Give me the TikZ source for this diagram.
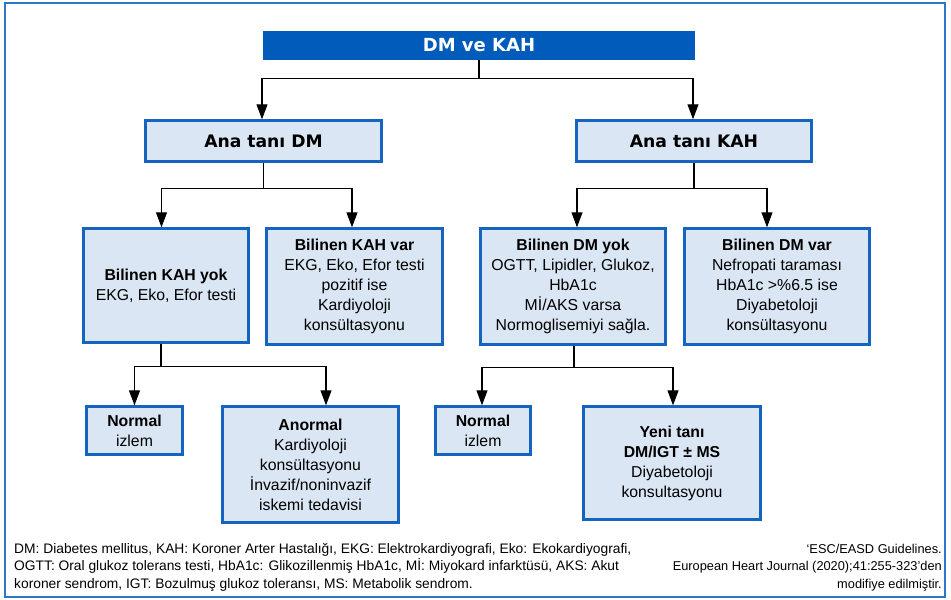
\documentclass[tikz,border=0pt]{standalone}
\usepackage{fontspec}
\setmainfont{Liberation Sans}
\newfontfamily\headfont{DejaVu Sans}
\usetikzlibrary{arrows.meta,calc}
\definecolor{boxblue}{HTML}{1565C0}
\definecolor{boxfill}{HTML}{DAE6F3}
\definecolor{titlefill}{HTML}{005BBB}
\definecolor{framecol}{HTML}{2F76C9}
\tikzset{
  box/.style={draw=boxblue, line width=2.4pt, fill=boxfill, inner sep=0pt, align=center,
    font=\fontsize{15.8}{20}\selectfont},
  headbox/.style={box, font=\headfont\bfseries\fontsize{17.2}{20}\selectfont},
  titlebox/.style={fill=titlefill, text=white, inner sep=0pt, align=center,
    font=\headfont\bfseries\fontsize{18}{20}\selectfont},
  conn/.style={line width=1.1pt, draw=black},
  arr/.style={conn, -{Triangle[width=11pt,length=15pt]}},
  foot/.style={inner sep=0pt, font=\fontsize{13.8}{17.5}\selectfont},
  footr/.style={inner sep=0pt, font=\fontsize{12.8}{17.5}\selectfont},
  frame/.style={draw=framecol, line width=2pt}
}
\begin{document}
\begin{tikzpicture}[x=1pt,y=-1pt]
\useasboundingbox (0,0) rectangle (951,600);
\draw[frame] (5,3) rectangle (945,597);

\node[titlebox, minimum width=432pt, minimum height=29pt] (title) at (479,45.5) {DM ve KAH};

\node[headbox, minimum width=236pt, minimum height=41pt] (anadm) at (263.5,141) {Ana tanı DM};
\node[headbox, minimum width=235pt, minimum height=41pt] (anakah) at (694,141) {Ana tanı KAH};

\node[box, minimum width=165pt, minimum height=114pt] (kahyok) at (166,285.5)
  {\textbf{Bilinen KAH yok}\\EKG, Eko, Efor testi};
\node[box, minimum width=176pt, minimum height=116pt] (kahvar) at (354.5,286.5)
  {\textbf{Bilinen KAH var}\\EKG, Eko, Efor testi\\pozitif ise\\Kardiyoloji\\konsültasyonu};
\node[box, minimum width=185pt, minimum height=116pt] (dmyok) at (573,286.5)
  {\textbf{Bilinen DM yok}\\OGTT, Lipidler, Glukoz,\\HbA1c\\Mİ/AKS varsa\\Normoglisemiyi sağla.};
\node[box, minimum width=185pt, minimum height=116pt] (dmvar) at (777,286.5)
  {\textbf{Bilinen DM var}\\Nefropati taraması\\HbA1c >\%6.5 ise\\Diyabetoloji\\konsültasyonu};

\node[box, minimum width=96pt, minimum height=48pt] (normal1) at (134.5,430.5)
  {\textbf{Normal}\\izlem};
\node[box, minimum width=176pt, minimum height=116pt] (anormal) at (310.5,464.5)
  {\textbf{Anormal}\\Kardiyoloji\\konsültasyonu\\İnvazif/noninvazif\\iskemi tedavisi};
\node[box, minimum width=95pt, minimum height=48pt] (normal2) at (483,430.5)
  {\textbf{Normal}\\izlem};
\node[box, minimum width=177pt, minimum height=113pt] (yeni) at (672,463)
  {\textbf{Yeni tanı}\\\textbf{DM/IGT ± MS}\\Diyabetoloji\\konsultasyonu};

% level 1
\draw[conn] (title.south) -- ++(0,18) coordinate (j0);
\draw[arr] (j0) -| ([xshift=-1.5pt]anadm.north);
\draw[arr] (j0) -| ([xshift=-1pt]anakah.north);
% level 2
\draw[conn] (anadm.south) -- ++(0,26) coordinate (j1);
\draw[arr] (j1) -| ([xshift=-4.5pt]kahyok.north);
\draw[arr] (j1) -| ([xshift=-2.5pt]kahvar.north);
\draw[conn] (anakah.south) -- ++(0,26) coordinate (j2);
\draw[arr] (j2) -| ([xshift=4pt]dmyok.north);
\draw[arr] (j2) -| ([xshift=-10pt]dmvar.north);
% level 3
\draw[conn] ([xshift=-5pt]kahyok.south) -- ++(0,23) coordinate (j3);
\draw[arr] (j3) -| (normal1.north);
\draw[arr] (j3) -| ([xshift=15.5pt]anormal.north);
\draw[conn] ([xshift=1pt]dmyok.south) -- ++(0,22) coordinate (j4);
\draw[arr] (j4) -| ([xshift=-1pt]normal2.north);
\draw[arr] (j4) -| ([xshift=1pt]yeni.north);

% footer
\node[foot, anchor=north west, align=left] (legend) at (14,543)
  {DM: Diabetes mellitus, KAH: Koroner Arter Hastalığı, EKG: Elektrokardiyografi, Eko: Ekokardiyografi,\\
   OGTT: Oral glukoz tolerans testi, HbA1c: Glikozillenmiş HbA1c, Mİ: Miyokard infarktüsü, AKS: Akut\\
   koroner sendrom, IGT: Bozulmuş glukoz toleransı, MS: Metabolik sendrom.};
\node[footr, anchor=north east, align=right] (source) at (942,544)
  {‘ESC/EASD Guidelines.\\European Heart Journal (2020);41:255-323’den\\modifiye edilmiştir.};
\end{tikzpicture}
\end{document}
